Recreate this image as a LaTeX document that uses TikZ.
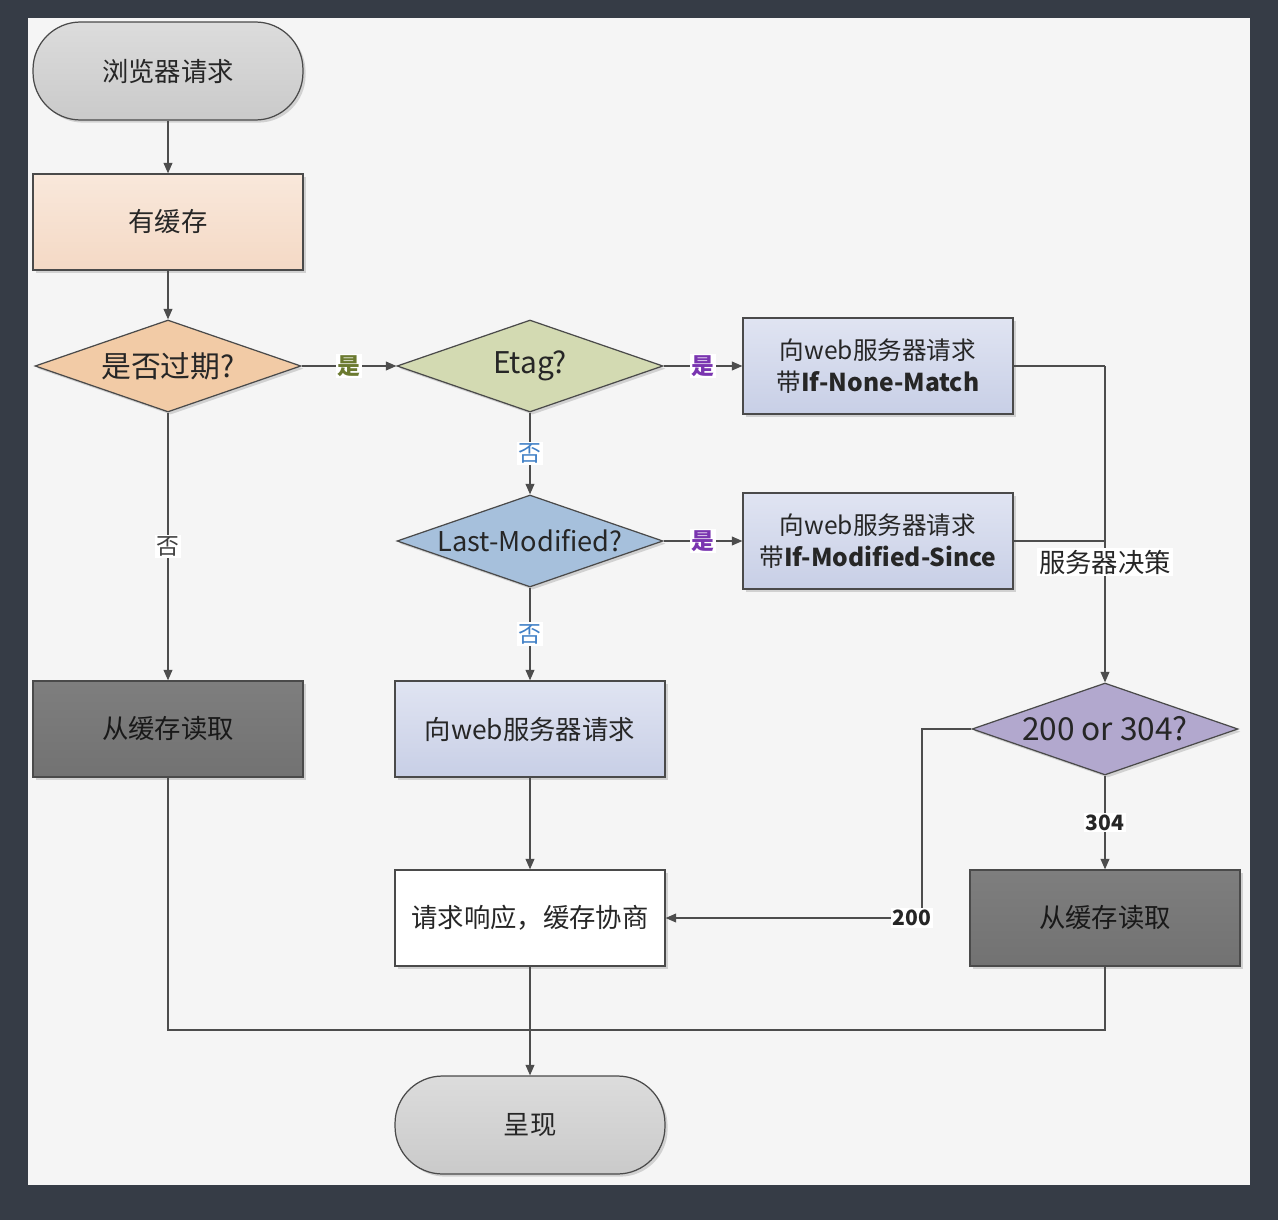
\documentclass[tikz,border=0pt]{standalone}
\usepackage{fontspec}
\setmainfont{Noto Sans CJK SC}
\usetikzlibrary{shapes.geometric, arrows.meta, shadows}

\definecolor{slate}{HTML}{363C46}
\definecolor{panel}{HTML}{F5F5F5}
\definecolor{edgeclr}{HTML}{4A4A4A}
\definecolor{lineclr}{HTML}{4D4D4D}
\definecolor{yesgreen}{HTML}{6B7A30}
\definecolor{yespurple}{HTML}{7A35B0}
\definecolor{noblue}{HTML}{3F7FC6}
% fills
\definecolor{termtop}{HTML}{DCDCDC}
\definecolor{termbot}{HTML}{CACACA}
\definecolor{cachetop}{HTML}{F9E8DB}
\definecolor{cachebot}{HTML}{F4D9C5}
\definecolor{reqtop}{HTML}{E0E4F2}
\definecolor{reqbot}{HTML}{C8CFE6}
\definecolor{readtop}{HTML}{7E7E7E}
\definecolor{readbot}{HTML}{727272}
\definecolor{expiredfill}{HTML}{F2CBA6}
\definecolor{etagfill}{HTML}{D3DAB2}
\definecolor{lastmodfill}{HTML}{A6C0DC}
\definecolor{codefill}{HTML}{B2A8CE}

\begin{document}
\begin{tikzpicture}[
    x=0.02cm, y=-0.02cm,
    every node/.style={font=\fontsize{15}{19}\selectfont, text=black!85},
    >={Triangle[length=6pt, width=5pt]},
    flow/.style={->, line width=0.8pt, draw=lineclr},
    link/.style={line width=0.8pt, draw=lineclr},
    shade/.style={drop shadow={shadow xshift=1.5pt, shadow yshift=-1.5pt, opacity=0.3}},
    boxbase/.style={draw=edgeclr, line width=0.7pt, shade, align=center,
        minimum width=5.4cm, minimum height=1.92cm},
    term/.style={boxbase, rounded corners=0.95cm, minimum height=1.96cm,
        top color=termtop, bottom color=termbot},
    cachebox/.style={boxbase, top color=cachetop, bottom color=cachebot},
    reqbox/.style={boxbase, top color=reqtop, bottom color=reqbot},
    readbox/.style={boxbase, top color=readtop, bottom color=readbot, text=black!90},
    respbox/.style={boxbase, fill=white},
    decision/.style={diamond, aspect=2.9, inner sep=0pt, draw=edgeclr,
        line width=0.7pt, shade, minimum width=5.32cm, minimum height=1.84cm},
    lbl/.style={fill=white, inner sep=1pt, font=\fontsize{13}{15}\selectfont\bfseries},
]

% === Background ===
\useasboundingbox (0,0) rectangle (1278,1220);
\fill[slate] (0,0) rectangle (1278,1220);
\fill[panel] (28,18) rectangle (1250,1185);

% === Left column ===
\node[term] (start) at (168,71) {浏览器请求};
\node[cachebox] (cache) at (168,222) {有缓存};
\node[decision, fill=expiredfill, font=\fontsize{17}{20}\selectfont]
    (expired) at (168,366) {是否过期?};
\node[readbox] (readL) at (168,729) {从缓存读取};

% === Middle column ===
\node[decision, fill=etagfill, font=\fontsize{17}{20}\selectfont]
    (etag) at (530,366) {Etag?};
\node[decision, fill=lastmodfill, font=\fontsize{15.5}{18}\selectfont]
    (lastmod) at (530,541) {Last-Modified?};
\node[reqbox] (req) at (530,729) {向web服务器请求};
\node[respbox] (resp) at (530,918) {请求响应，缓存协商};
\node[term] (show) at (530,1125) {呈现};

% === Right column ===
\node[reqbox, font=\fontsize{14}{18}\selectfont]
    (inm) at (878,366) {向web服务器请求\\带\textbf{If-None-Match}};
\node[reqbox, font=\fontsize{14}{18}\selectfont]
    (ims) at (878,541) {向web服务器请求\\带\textbf{If-Modified-Since}};
\node[decision, fill=codefill, font=\fontsize{18}{22}\selectfont]
    (code) at (1105,729) {200 or 304?};
\node[readbox] (readR) at (1105,918) {从缓存读取};

% === Connectors ===
\draw[flow] (start) -- (cache);
\draw[flow] (cache) -- (expired);
\draw[flow] (expired) -- node[lbl, text=yesgreen] {是} (etag);
\draw[flow] (expired) -- node[lbl, text=black!75, font=\fontsize{13}{15}\selectfont] {否} (readL);
\draw[flow] (etag) -- node[lbl, text=yespurple] {是} (inm);
\draw[flow] (etag) -- node[lbl, text=noblue, font=\fontsize{13}{15}\selectfont] {否} (lastmod);
\draw[flow] (lastmod) -- node[lbl, text=yespurple] {是} (ims);
\draw[flow] (lastmod) -- node[lbl, text=noblue, font=\fontsize{13}{15}\selectfont] {否} (req);
\draw[flow] (req) -- (resp);
\draw[flow] (resp) -- (show);

% server decision
\coordinate (srvtop) at (1105,366);
\draw[link] (inm.east) -- (srvtop);
\draw[link] (ims.east) -- (ims.east -| srvtop);
\draw[flow] (srvtop) -- node[pos=0.62, fill=white, inner sep=1pt,
    font=\fontsize{15}{18}\selectfont] {服务器决策} (code.north);

% 200 / 304 branches
\coordinate (bend200) at (922,729);
\draw[flow] (code.west) -- (bend200) |- node[pos=0.52, lbl, font=\fontsize{12}{14}\selectfont\bfseries] {200} (resp.east);
\draw[flow] (code) -- node[lbl, font=\fontsize{12}{14}\selectfont\bfseries] {304} (readR);

% merge into result
\coordinate (merge) at (530,1030);
\draw[link] (readL) |- (merge);
\draw[link] (readR) |- (merge);

\end{tikzpicture}
\end{document}
